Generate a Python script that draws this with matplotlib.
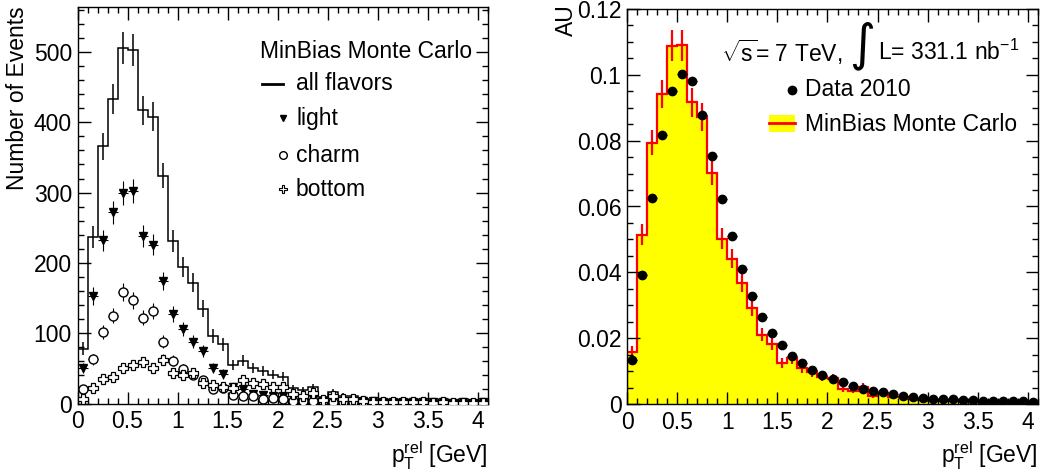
import numpy as np
import matplotlib
matplotlib.use("Agg")
import matplotlib.pyplot as plt
from matplotlib.lines import Line2D
from matplotlib.patches import Rectangle
from matplotlib.ticker import MultipleLocator, FuncFormatter

plt.rcParams['font.family'] = ['Liberation Sans', 'DejaVu Sans']
plt.rcParams['mathtext.fontset'] = 'custom'
plt.rcParams['mathtext.rm'] = 'Liberation Sans'
plt.rcParams['mathtext.it'] = 'Liberation Sans:italic'
plt.rcParams['mathtext.bf'] = 'Liberation Sans:bold'

# binning: 41 bins of 0.1 GeV
edges = np.round(np.arange(0, 4.11, 0.1), 2)
centers = edges[:-1] + 0.05

# left panel: MinBias MC, flavour composition (events)
all_flavors = [78, 237, 366, 433, 506, 503, 417, 408, 324, 231, 194, 172, 135, 96, 84,
               55, 61, 51, 46, 41, 38, 22, 19, 23, 9, 16, 11, 10, 7, 5,
               5, 4, 5, 5, 4, 4, 4, 3, 4, 3, 3]
all_err = [8.8, 15.4, 19.1, 20.8, 22.5, 22.4, 20.4, 20.2, 18.0, 15.2, 13.9, 13.1, 11.6, 9.8, 9.2,
           7.4, 7.8, 7.1, 6.8, 6.4, 6.2, 4.7, 4.4, 4.8, 3.0, 4.0, 3.3, 3.2, 2.6, 2.2,
           2.2, 2.0, 2.2, 2.2, 2.0, 2.0, 2.0, 1.7, 2.0, 1.7, 1.7]

light = [50, 153, 232, 272, 299, 302, 238, 226, 174, 127, 106, 88, 75, 51, 42,
         24, 21, 14, 12, 11, 10, 7, 6, 6, 3, 5, 4, 4, 3, 3,
         2, 2, 2, 2, 2, 2, 2, 1, 2, 1, 2]
light_err = [7.1, 12.4, 15.2, 16.5, 17.3, 17.4, 15.4, 15.0, 13.2, 11.3, 10.3, 9.4, 8.7, 7.1, 6.5,
             4.9, 4.6, 3.7, 3.5, 3.3, 3.2, 2.6, 2.4, 2.4, 1.7, 2.2, 2.0, 2.0, 1.7, 1.7,
             1.4, 1.4, 1.4, 1.4, 1.4, 1.4, 1.4, 1.0, 1.4, 1.0, 1.4]

charm = [20, 63, 102, 125, 159, 147, 122, 131, 88, 61, 49, 41, 34, 20, 22,
         12, 10, 10, 6, 8, 7, 3, 3, 4, 3, 2, 2, 2, 2, 1,
         2, 1, 2, 2, 1, 1, 1, 1, 1, 1, 1]
charm_err = [4.5, 7.9, 10.1, 11.2, 12.6, 12.1, 11.0, 11.4, 9.4, 7.8, 7.0, 6.4, 5.8, 4.5, 4.7,
             3.5, 3.2, 3.2, 2.4, 2.8, 2.6, 1.7, 1.7, 2.0, 1.7, 1.4, 1.4, 1.4, 1.4, 1.0,
             1.4, 1.0, 1.4, 1.4, 1.0, 1.0, 1.0, 1.0, 1.0, 1.0, 1.0]

bottom = [6, 22, 35, 38, 50, 55, 59, 51, 62, 44, 40, 44, 29, 27, 24,
          22, 33, 29, 28, 23, 24, 14, 11, 15, 5, 11, 6, 6, 3, 2,
          2, 2, 2, 2, 2, 1, 2, 1, 1, 1, 1]
bottom_err = [2.4, 4.7, 5.9, 6.2, 7.1, 7.4, 7.7, 7.1, 7.9, 6.6, 6.3, 6.6, 5.4, 5.2, 4.9,
              4.7, 5.7, 5.4, 5.3, 4.8, 4.9, 3.7, 3.3, 3.9, 2.2, 3.3, 2.4, 2.4, 1.7, 1.4,
              1.4, 1.4, 1.4, 1.4, 1.4, 1.0, 1.4, 1.0, 1.0, 1.0, 1.0]

# right panel: normalised data vs MC (AU)
data2010 = [0.0134, 0.0393, 0.0627, 0.0818, 0.0952, 0.1002, 0.0980, 0.0879, 0.0752, 0.0624,
            0.0509, 0.0409, 0.0328, 0.0263, 0.0216, 0.0178, 0.0147, 0.0126, 0.0104, 0.0089,
            0.0076, 0.0066, 0.0056, 0.0047, 0.0041, 0.0035, 0.0029, 0.0025, 0.0022, 0.0018,
            0.0016, 0.0015, 0.0014, 0.0012, 0.0011, 0.0010, 0.0010, 0.0008, 0.0008, 0.0008,
            0.0007]
mc = [0.0157, 0.0514, 0.0794, 0.0941, 0.1088, 0.1090, 0.0916, 0.0871, 0.0703, 0.0502,
      0.0442, 0.0367, 0.0291, 0.0210, 0.0183, 0.0124, 0.0139, 0.0110, 0.0096, 0.0083,
      0.0080, 0.0047, 0.0041, 0.0053, 0.0024, 0.0032, 0.0022, 0.0020, 0.0014, 0.0012,
      0.0010, 0.0009, 0.0008, 0.0008, 0.0007, 0.0006, 0.0006, 0.0005, 0.0005, 0.0004,
      0.0004]
mc_err = [0.0018, 0.0032, 0.0039, 0.0043, 0.0047, 0.0047, 0.0043, 0.0042, 0.0037, 0.0032,
          0.0029, 0.0027, 0.0024, 0.0020, 0.0019, 0.0016, 0.0017, 0.0015, 0.0014, 0.0013,
          0.0012, 0.0010, 0.0009, 0.0010, 0.0007, 0.0008, 0.0007, 0.0006, 0.0005, 0.0005,
          0.0004, 0.0004, 0.0004, 0.0004, 0.0004, 0.0003, 0.0003, 0.0003, 0.0003, 0.0003,
          0.0003]

W, H = 1046, 473
FS = 16.5


def fx(x):
    return x / W


def fy(y):
    return 1 - y / H


def style_axes(ax, ymaj, ymin):
    ax.set_xlim(0, 4.1)
    ax.xaxis.set_major_locator(MultipleLocator(0.5))
    ax.xaxis.set_minor_locator(MultipleLocator(0.1))
    ax.yaxis.set_major_locator(MultipleLocator(ymaj))
    ax.yaxis.set_minor_locator(MultipleLocator(ymin))
    fmt = FuncFormatter(lambda v, p: '%g' % round(v, 6))
    ax.xaxis.set_major_formatter(fmt)
    ax.yaxis.set_major_formatter(fmt)
    ax.tick_params(which='both', direction='in', top=True, right=True,
                   labelsize=FS, width=1.0)
    ax.tick_params(which='major', length=9)
    ax.tick_params(which='minor', length=4.5)
    ax.tick_params(axis='x', pad=5)
    ax.tick_params(axis='y', pad=4)
    ax.set_axisbelow(False)
    for s in ax.spines.values():
        s.set_linewidth(1.0)


fig = plt.figure(figsize=(W / 100, H / 100), dpi=100)

# ---------------- left panel ----------------
ax1 = fig.add_axes([fx(77.5), fy(403.5), 410.5 / W, 396.5 / H])
ax1.stairs(all_flavors, edges, color='black', lw=1.1)
ax1.errorbar(centers, all_flavors, yerr=all_err, fmt='none', ecolor='black', elinewidth=1.1)
ax1.errorbar(centers, light, yerr=light_err, xerr=0.05, fmt='v', color='black', ms=5.5,
             elinewidth=0.8, zorder=4)
ax1.errorbar(centers, charm, yerr=charm_err, xerr=0.05, fmt='o', color='black', mfc='white',
             mec='black', ms=6.5, mew=1.0, elinewidth=0.8, zorder=4)
ax1.errorbar(centers, bottom, yerr=bottom_err, xerr=0.05, fmt='P', color='black', mfc='white',
             mec='black', ms=6.5, mew=0.9, elinewidth=0.8, zorder=4)
ax1.set_ylim(0, 564)
style_axes(ax1, 100, 20)

fig.text(fx(18), fy(6), 'Number of Events', rotation=90, ha='center', va='top', fontsize=FS)
fig.text(fx(488), fy(463), r'$\mathrm{p}_{\mathrm{T}}^{\mathrm{rel}}$ [GeV]', ha='right',
         va='baseline', fontsize=FS)

# legend (left)
fig.text(fx(472), fy(52), 'MinBias Monte Carlo', ha='right', va='center', fontsize=FS)
fig.add_artist(Line2D([fx(262), fx(283)], [fy(84), fy(84)], color='black', lw=2,
                      transform=fig.transFigure))
fig.add_artist(Line2D([fx(283)], [fy(118)], marker='v', color='black', ms=5, ls='none',
                      transform=fig.transFigure))
fig.add_artist(Line2D([fx(283)], [fy(155)], marker='o', mfc='white', mec='black', ms=5.5,
                      ls='none', transform=fig.transFigure))
fig.add_artist(Line2D([fx(283)], [fy(189)], marker='P', mfc='white', mec='black', ms=5.5,
                      mew=0.8, ls='none', transform=fig.transFigure))
for label, y in [('all flavors', 84), ('light', 118), ('charm', 155), ('bottom', 189)]:
    fig.text(fx(296), fy(y), label, ha='left', va='center', fontsize=FS)

# ---------------- right panel ----------------
ax2 = fig.add_axes([fx(627), fy(404), 411 / W, 395 / H])
ax2.stairs(mc, edges, fill=True, color='#ffff00', lw=0)
ax2.stairs(mc, edges, color='#ff0000', lw=1.6)
ax2.errorbar(centers, mc, yerr=mc_err, fmt='none', ecolor='#ff0000', elinewidth=1.6)
ax2.errorbar(centers, data2010, xerr=0.05, fmt='o', color='black', ms=6, elinewidth=1.0,
             zorder=4)
ax2.set_ylim(0, 0.12)
style_axes(ax2, 0.02, 0.005)

fig.text(fx(566), fy(4), 'AU', rotation=90, ha='center', va='top', fontsize=FS)
fig.text(fx(1038), fy(463), r'$\mathrm{p}_{\mathrm{T}}^{\mathrm{rel}}$ [GeV]', ha='right',
         va='baseline', fontsize=FS)

fig.text(fx(721), fy(52), r'$\sqrt{\mathrm{s}}$= 7 TeV,', ha='left', va='center', fontsize=FS)
fig.text(fx(862), fy(46), '\u222b', ha='center', va='center', fontsize=36,
         family=['DejaVu Sans'])
fig.text(fx(878), fy(52), r'L= 331.1 nb$^{\mathrm{-1}}$', ha='left', va='center', fontsize=FS)

fig.add_artist(Line2D([fx(792)], [fy(90)], marker='o', color='black', ms=6, ls='none',
                      transform=fig.transFigure))
fig.text(fx(805), fy(90), 'Data 2010', ha='left', va='center', fontsize=FS)
fig.add_artist(Rectangle((fx(769), fy(132)), fx(795) - fx(769), (132 - 115) / H,
                         facecolor='#ffff00', edgecolor='none', transform=fig.transFigure))
fig.add_artist(Line2D([fx(769), fx(795)], [fy(123.5), fy(123.5)], color='#ff0000', lw=2,
                      transform=fig.transFigure))
fig.text(fx(805), fy(124), 'MinBias Monte Carlo', ha='left', va='center', fontsize=FS)

fig.savefig('out.png', dpi=100)
